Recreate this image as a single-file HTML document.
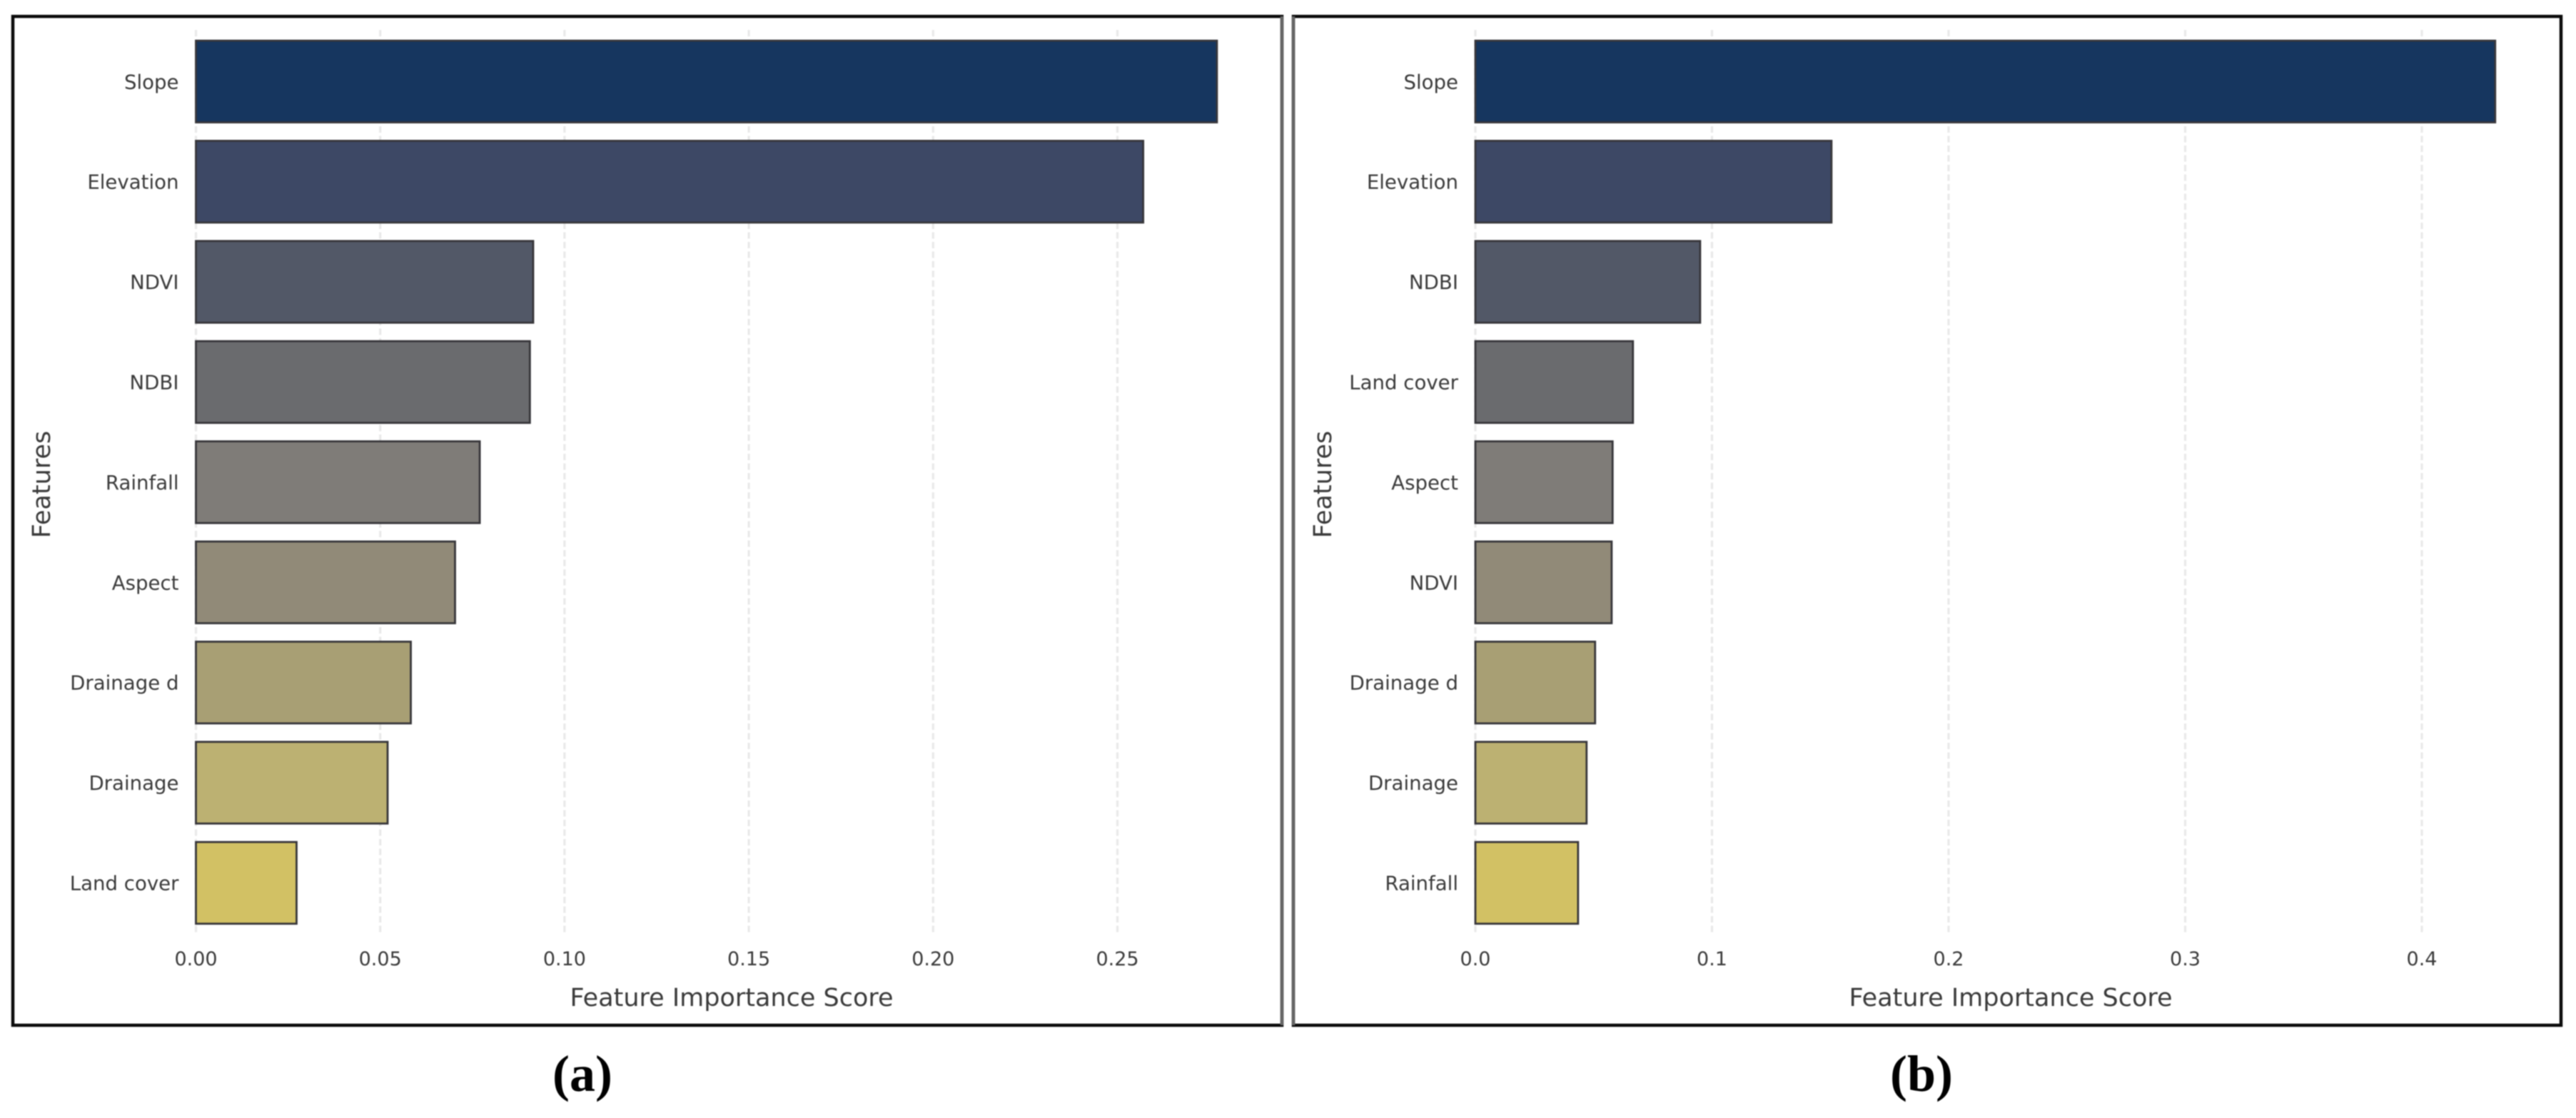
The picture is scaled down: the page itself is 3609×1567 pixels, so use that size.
<!DOCTYPE html>
<html lang="en">
<head>
<meta charset="utf-8">
<title>Feature importance charts</title>
<style>
html,body{margin:0;padding:0;background:#fff;width:3609px;height:1567px;overflow:hidden}
svg{display:block;filter:blur(0.7px)}
text{font-family:"DejaVu Sans","Liberation Sans",sans-serif;fill:#3a3a3a}
.caption{font-family:"Liberation Serif",serif;font-weight:bold;font-size:72px;fill:#000;text-anchor:middle}
</style>
</head>
<body>
<svg id="figure" xmlns="http://www.w3.org/2000/svg" width="3609" height="1567" viewBox="0 0 3609 1567">
  <rect x="0" y="0" width="3609" height="1567" fill="#ffffff"/>
  <g id="panel-a"></g>
  <g id="panel-b"></g>
  <text class="caption" x="816" y="1529">(a)</text>
  <text class="caption" x="2692" y="1529">(b)</text>
</svg>
<script>
var categoriesA = ['Slope','Elevation','NDVI','NDBI','Rainfall','Aspect','Drainage d','Drainage','Land cover'];
var valuesA = [0.277,0.257,0.0915,0.0906,0.077,0.0703,0.0583,0.052,0.0273];
var ticksA = [0,0.05,0.10,0.15,0.20,0.25];
var tickLabelsA = ['0.00','0.05','0.10','0.15','0.20','0.25'];

var categoriesB = ['Slope','Elevation','NDBI','Land cover','Aspect','NDVI','Drainage d','Drainage','Rainfall'];
var valuesB = [0.431,0.1505,0.095,0.0666,0.058,0.0576,0.0506,0.047,0.0434];
var ticksB = [0,0.1,0.2,0.3,0.4];
var tickLabelsB = ['0.0','0.1','0.2','0.3','0.4'];

var barColors = ['#16365f','#3d4865','#525867','#6a6b6e','#7f7c78','#918a78','#a89f74','#bcb172','#d2c164'];
var xAxisTitle = 'Feature Importance Score';
var yAxisTitle = 'Features';

var NS = 'http://www.w3.org/2000/svg';

function drawPanel(rootId, categories, values, ticks, tickLabels, cfg) {
  var root = document.getElementById(rootId);
  function xScale(v) { return cfg.x0 + v * cfg.pxPerUnit; }
  function yScale(i) { return 57 + i * 140.4; }
  var bandH = 114.5;

  var frame = document.createElementNS(NS, 'rect');
  
  
  frame.setAttribute('x', cfg.fx0);
  frame.setAttribute('y', 23);
  frame.setAttribute('width', cfg.fx1 - cfg.fx0);
  frame.setAttribute('height', 1437 - 23);
  frame.setAttribute('fill', '#ffffff');
  frame.setAttribute('stroke', '#0a0a0a');
  frame.setAttribute('stroke-width', '4.5');
  root.appendChild(frame);

  var innerEdge = document.createElementNS(NS, 'line');
  
  
  innerEdge.setAttribute('x1', cfg.innerEdgeX);
  innerEdge.setAttribute('x2', cfg.innerEdgeX);
  innerEdge.setAttribute('y1', 23);
  innerEdge.setAttribute('y2', 1437);
  innerEdge.setAttribute('stroke', '#666666');
  innerEdge.setAttribute('stroke-width', '4.5');
  root.appendChild(innerEdge);

  ticks.forEach(function (t, i) {
    var grid = document.createElementNS(NS, 'line');
    
    
    grid.setAttribute('x1', xScale(t));
    grid.setAttribute('x2', xScale(t));
    grid.setAttribute('y1', 42);
    grid.setAttribute('y2', 1307);
    grid.setAttribute('stroke', '#e9e9e9');
    grid.setAttribute('stroke-width', '3.2');
    grid.setAttribute('stroke-dasharray', '9 4.5');
    root.appendChild(grid);

    var label = document.createElementNS(NS, 'text');
    
    
    label.setAttribute('x', xScale(t));
    label.setAttribute('y', 1353);
    label.setAttribute('font-size', '27');
    label.setAttribute('text-anchor', 'middle');
    label.textContent = tickLabels[i];
    root.appendChild(label);
  });

  categories.forEach(function (c, i) {
    var bar = document.createElementNS(NS, 'rect');
    
    
    bar.setAttribute('x', xScale(0));
    bar.setAttribute('y', yScale(i));
    bar.setAttribute('width', xScale(values[i]) - xScale(0));
    bar.setAttribute('height', bandH);
    bar.setAttribute('fill', barColors[i]);
    bar.setAttribute('stroke', '#37363a');
    bar.setAttribute('stroke-width', '2.8');
    root.appendChild(bar);

    var label = document.createElementNS(NS, 'text');
    
    
    label.setAttribute('x', xScale(0) - 24);
    label.setAttribute('y', yScale(i) + bandH / 2 + 10);
    label.setAttribute('font-size', '27.6');
    label.setAttribute('text-anchor', 'end');
    label.textContent = c;
    root.appendChild(label);
  });

  var xTitle = document.createElementNS(NS, 'text');
  
  
  xTitle.setAttribute('x', cfg.xTitleX);
  xTitle.setAttribute('y', 1410);
  xTitle.setAttribute('font-size', '35');
  xTitle.setAttribute('text-anchor', 'middle');
  xTitle.textContent = xAxisTitle;
  root.appendChild(xTitle);

  var yTitle = document.createElementNS(NS, 'text');
  
  
  yTitle.setAttribute('transform', 'translate(' + cfg.yTitleX + ',679) rotate(-90)');
  yTitle.setAttribute('font-size', '35');
  yTitle.setAttribute('text-anchor', 'middle');
  yTitle.textContent = yAxisTitle;
  root.appendChild(yTitle);
}

drawPanel('panel-a', categoriesA, valuesA, ticksA, tickLabelsA,
  {x0: 274.5, pxPerUnit: 5164, fx0: 18, fx1: 1796, innerEdgeX: 1796, xTitleX: 1025, yTitleX: 70});
drawPanel('panel-b', categoriesB, valuesB, ticksB, tickLabelsB,
  {x0: 2067, pxPerUnit: 3315, fx0: 1812, fx1: 3588, innerEdgeX: 1812, xTitleX: 2817, yTitleX: 1865});
</script>
</body>
</html>
